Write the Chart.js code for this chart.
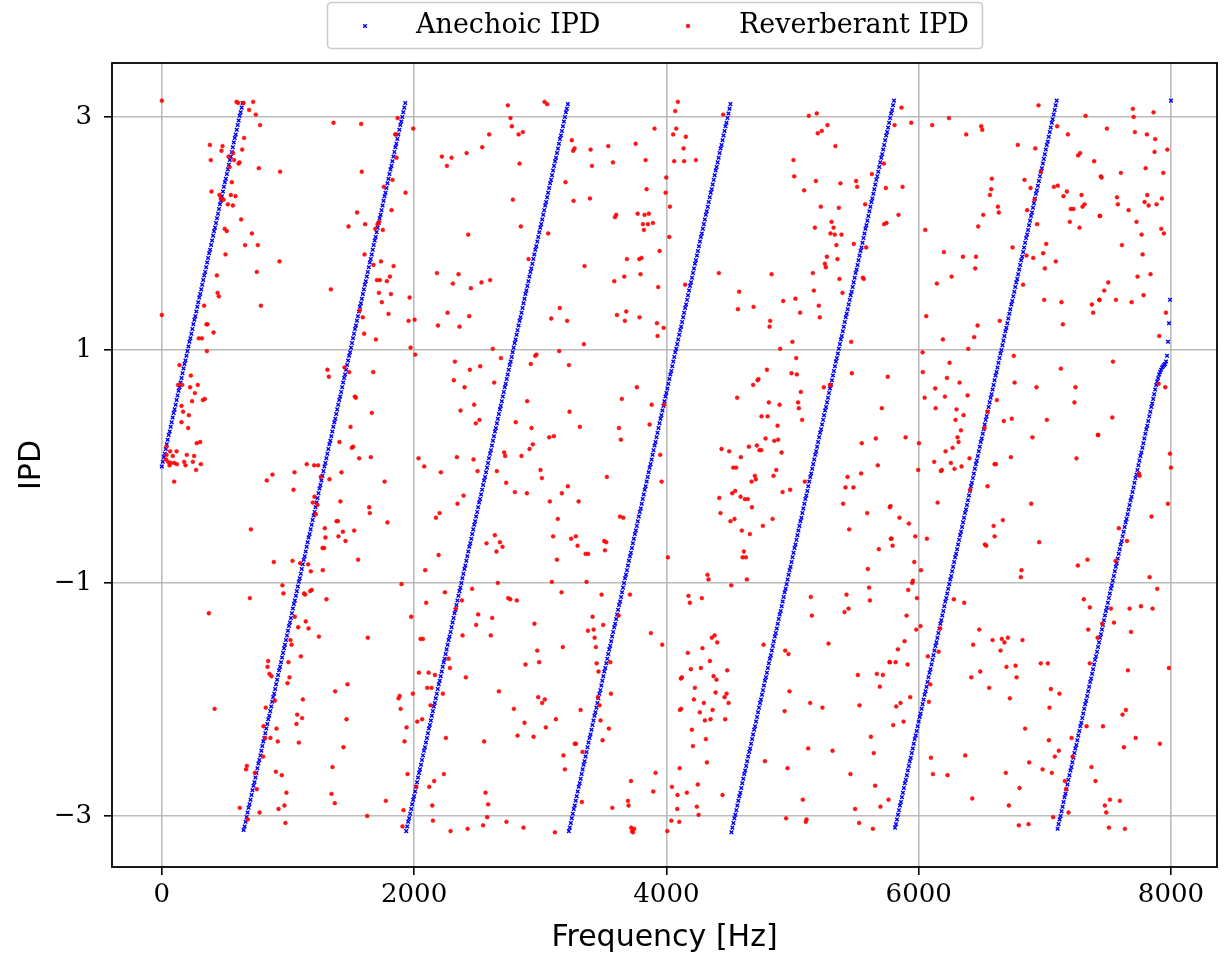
<!DOCTYPE html>
<html>
<head>
<meta charset="utf-8">
<title>IPD</title>
<script src="https://cdn.jsdelivr.net/npm/chart.js@4.4.0/dist/chart.umd.min.js"></script>
<style>
    html, body { margin: 0; padding: 0; background: #ffffff; }
    #wrap { width: 1225px; height: 957px; }
</style>
</head>
<body>
<div id="wrap"><canvas id="ipdChart" width="1225" height="957"></canvas></div>
<script>
// ==========================================
// DATOS
// ==========================================

// frequency bin step (Hz) for the anechoic series, bins 0..1024
const binHz = 7.8125;

const xTicks = [0, 2000, 4000, 6000, 8000];
const yTicks = [-3, -1, 1, 3];

const seriesLabels = ['Anechoic IPD', 'Reverberant IPD'];

// anechoic IPD, one value per bin
const anechoicIpd = [
    0.00,0.04,0.08,0.11,0.15,0.19,0.23,0.27,0.30,0.34,
    0.38,0.42,0.46,0.49,0.53,0.57,0.61,0.65,0.68,0.72,
    0.76,0.80,0.84,0.88,0.91,0.95,0.99,1.03,1.07,1.10,
    1.14,1.18,1.22,1.26,1.29,1.33,1.37,1.41,1.45,1.48,
    1.52,1.56,1.60,1.64,1.67,1.71,1.75,1.79,1.83,1.86,
    1.90,1.94,1.98,2.02,2.05,2.09,2.13,2.17,2.21,2.25,
    2.28,2.32,2.36,2.40,2.44,2.47,2.51,2.55,2.59,2.63,
    2.66,2.70,2.74,2.78,2.82,2.85,2.89,2.93,2.97,3.01,
    3.04,3.08,3.12,-3.12,-3.09,-3.05,-3.01,-2.97,-2.93,-2.90,
    -2.86,-2.82,-2.78,-2.74,-2.71,-2.67,-2.63,-2.59,-2.55,-2.52,
    -2.48,-2.44,-2.40,-2.36,-2.33,-2.29,-2.25,-2.21,-2.17,-2.14,
    -2.10,-2.06,-2.02,-1.98,-1.95,-1.91,-1.87,-1.83,-1.79,-1.75,
    -1.72,-1.68,-1.64,-1.60,-1.56,-1.53,-1.49,-1.45,-1.41,-1.37,
    -1.34,-1.30,-1.26,-1.22,-1.18,-1.15,-1.11,-1.07,-1.03,-0.99,
    -0.96,-0.92,-0.88,-0.84,-0.80,-0.77,-0.73,-0.69,-0.65,-0.61,
    -0.58,-0.54,-0.50,-0.46,-0.42,-0.39,-0.35,-0.31,-0.27,-0.23,
    -0.19,-0.16,-0.12,-0.08,-0.04,0.00,0.03,0.07,0.11,0.15,
    0.19,0.22,0.26,0.30,0.34,0.38,0.41,0.45,0.49,0.53,
    0.57,0.60,0.64,0.68,0.72,0.76,0.79,0.83,0.87,0.91,
    0.95,0.98,1.02,1.06,1.10,1.14,1.18,1.21,1.25,1.29,
    1.33,1.37,1.40,1.44,1.48,1.52,1.56,1.59,1.63,1.67,
    1.71,1.75,1.78,1.82,1.86,1.90,1.94,1.97,2.01,2.05,
    2.09,2.13,2.16,2.20,2.24,2.28,2.32,2.35,2.39,2.43,
    2.47,2.51,2.55,2.58,2.62,2.66,2.70,2.74,2.77,2.81,
    2.85,2.89,2.93,2.96,3.00,3.04,3.08,3.12,-3.13,-3.09,
    -3.05,-3.02,-2.98,-2.94,-2.90,-2.86,-2.83,-2.79,-2.75,-2.71,
    -2.67,-2.63,-2.60,-2.56,-2.52,-2.48,-2.44,-2.41,-2.37,-2.33,
    -2.29,-2.25,-2.22,-2.18,-2.14,-2.10,-2.06,-2.03,-1.99,-1.95,
    -1.91,-1.87,-1.84,-1.80,-1.76,-1.72,-1.68,-1.65,-1.61,-1.57,
    -1.53,-1.49,-1.46,-1.42,-1.38,-1.34,-1.30,-1.26,-1.23,-1.19,
    -1.15,-1.11,-1.07,-1.04,-1.00,-0.96,-0.92,-0.88,-0.85,-0.81,
    -0.77,-0.73,-0.69,-0.66,-0.62,-0.58,-0.54,-0.50,-0.47,-0.43,
    -0.39,-0.35,-0.31,-0.28,-0.24,-0.20,-0.16,-0.12,-0.09,-0.05,
    -0.01,0.03,0.07,0.11,0.14,0.18,0.22,0.26,0.30,0.33,
    0.37,0.41,0.45,0.49,0.52,0.56,0.60,0.64,0.68,0.71,
    0.75,0.79,0.83,0.87,0.90,0.94,0.98,1.02,1.06,1.09,
    1.13,1.17,1.21,1.25,1.28,1.32,1.36,1.40,1.44,1.48,
    1.51,1.55,1.59,1.63,1.67,1.70,1.74,1.78,1.82,1.86,
    1.89,1.93,1.97,2.01,2.05,2.08,2.12,2.16,2.20,2.24,
    2.27,2.31,2.35,2.39,2.43,2.46,2.50,2.54,2.58,2.62,
    2.65,2.69,2.73,2.77,2.81,2.84,2.88,2.92,2.96,3.00,
    3.04,3.07,3.11,-3.13,-3.10,-3.06,-3.02,-2.98,-2.94,-2.91,
    -2.87,-2.83,-2.79,-2.75,-2.72,-2.68,-2.64,-2.60,-2.56,-2.53,
    -2.49,-2.45,-2.41,-2.37,-2.33,-2.30,-2.26,-2.22,-2.18,-2.14,
    -2.11,-2.07,-2.03,-1.99,-1.95,-1.92,-1.88,-1.84,-1.80,-1.76,
    -1.73,-1.69,-1.65,-1.61,-1.57,-1.54,-1.50,-1.46,-1.42,-1.38,
    -1.35,-1.31,-1.27,-1.23,-1.19,-1.16,-1.12,-1.08,-1.04,-1.00,
    -0.96,-0.93,-0.89,-0.85,-0.81,-0.77,-0.74,-0.70,-0.66,-0.62,
    -0.58,-0.55,-0.51,-0.47,-0.43,-0.39,-0.36,-0.32,-0.28,-0.24,
    -0.20,-0.17,-0.13,-0.09,-0.05,-0.01,0.02,0.06,0.10,0.14,
    0.18,0.21,0.25,0.29,0.33,0.37,0.41,0.44,0.48,0.52,
    0.56,0.60,0.63,0.67,0.71,0.75,0.79,0.82,0.86,0.90,
    0.94,0.98,1.01,1.05,1.09,1.13,1.17,1.20,1.24,1.28,
    1.32,1.36,1.39,1.43,1.47,1.51,1.55,1.58,1.62,1.66,
    1.70,1.74,1.77,1.81,1.85,1.89,1.93,1.97,2.00,2.04,
    2.08,2.12,2.16,2.19,2.23,2.27,2.31,2.35,2.38,2.42,
    2.46,2.50,2.54,2.57,2.61,2.65,2.69,2.73,2.76,2.80,
    2.84,2.88,2.92,2.95,2.99,3.03,3.07,3.11,-3.14,-3.10,
    -3.06,-3.02,-2.99,-2.95,-2.91,-2.87,-2.83,-2.80,-2.76,-2.72,
    -2.68,-2.64,-2.61,-2.57,-2.53,-2.49,-2.45,-2.42,-2.38,-2.34,
    -2.30,-2.26,-2.23,-2.19,-2.15,-2.11,-2.07,-2.03,-2.00,-1.96,
    -1.92,-1.88,-1.84,-1.81,-1.77,-1.73,-1.69,-1.65,-1.62,-1.58,
    -1.54,-1.50,-1.46,-1.43,-1.39,-1.35,-1.31,-1.27,-1.24,-1.20,
    -1.16,-1.12,-1.08,-1.05,-1.01,-0.97,-0.93,-0.89,-0.86,-0.82,
    -0.78,-0.74,-0.70,-0.67,-0.63,-0.59,-0.55,-0.51,-0.47,-0.44,
    -0.40,-0.36,-0.32,-0.28,-0.25,-0.21,-0.17,-0.13,-0.09,-0.06,
    -0.02,0.02,0.06,0.10,0.13,0.17,0.21,0.25,0.29,0.32,
    0.36,0.40,0.44,0.48,0.51,0.55,0.59,0.63,0.67,0.70,
    0.74,0.78,0.82,0.86,0.90,0.93,0.97,1.01,1.05,1.09,
    1.12,1.16,1.20,1.24,1.28,1.31,1.35,1.39,1.43,1.47,
    1.50,1.54,1.58,1.62,1.66,1.69,1.73,1.77,1.81,1.85,
    1.88,1.92,1.96,2.00,2.04,2.07,2.11,2.15,2.19,2.23,
    2.27,2.30,2.34,2.38,2.42,2.46,2.49,2.53,2.57,2.61,
    2.65,2.68,2.72,2.76,2.80,2.84,2.87,2.91,2.95,2.99,
    3.03,3.06,3.10,3.14,-3.10,-3.07,-3.03,-2.99,-2.95,-2.91,
    -2.88,-2.84,-2.80,-2.76,-2.72,-2.69,-2.65,-2.61,-2.57,-2.53,
    -2.50,-2.46,-2.42,-2.38,-2.34,-2.31,-2.27,-2.23,-2.19,-2.15,
    -2.12,-2.08,-2.04,-2.00,-1.96,-1.93,-1.89,-1.85,-1.81,-1.77,
    -1.74,-1.70,-1.66,-1.62,-1.58,-1.54,-1.51,-1.47,-1.43,-1.39,
    -1.35,-1.32,-1.28,-1.24,-1.20,-1.16,-1.13,-1.09,-1.05,-1.01,
    -0.97,-0.94,-0.90,-0.86,-0.82,-0.78,-0.75,-0.71,-0.67,-0.63,
    -0.59,-0.56,-0.52,-0.48,-0.44,-0.40,-0.37,-0.33,-0.29,-0.25,
    -0.21,-0.17,-0.14,-0.10,-0.06,-0.02,0.02,0.05,0.09,0.13,
    0.17,0.21,0.24,0.28,0.32,0.36,0.40,0.43,0.47,0.51,
    0.55,0.59,0.62,0.66,0.70,0.74,0.78,0.81,0.85,0.89,
    0.93,0.97,1.00,1.04,1.08,1.12,1.16,1.19,1.23,1.27,
    1.31,1.35,1.39,1.42,1.46,1.50,1.54,1.58,1.61,1.65,
    1.69,1.73,1.77,1.80,1.84,1.88,1.92,1.96,1.99,2.03,
    2.07,2.11,2.15,2.18,2.22,2.26,2.30,2.34,2.37,2.41,
    2.45,2.49,2.53,2.56,2.60,2.64,2.68,2.72,2.76,2.79,
    2.83,2.87,2.91,2.95,2.98,3.02,3.06,3.10,3.14,-3.11,
    -3.07,-3.03,-3.00,-2.96,-2.92,-2.88,-2.84,-2.81,-2.77,-2.73,
    -2.69,-2.65,-2.61,-2.58,-2.54,-2.50,-2.46,-2.42,-2.39,-2.35,
    -2.31,-2.27,-2.23,-2.20,-2.16,-2.12,-2.08,-2.04,-2.01,-1.97,
    -1.93,-1.89,-1.85,-1.82,-1.78,-1.74,-1.70,-1.66,-1.63,-1.59,
    -1.55,-1.51,-1.47,-1.44,-1.40,-1.36,-1.32,-1.28,-1.24,-1.21,
    -1.17,-1.13,-1.09,-1.05,-1.02,-0.98,-0.94,-0.90,-0.86,-0.83,
    -0.79,-0.75,-0.71,-0.67,-0.64,-0.60,-0.56,-0.52,-0.48,-0.45,
    -0.41,-0.37,-0.33,-0.29,-0.26,-0.22,-0.18,-0.14,-0.10,-0.07,
    -0.03,0.01,0.05,0.09,0.12,0.16,0.20,0.24,0.28,0.32,
    0.35,0.39,0.43,0.47,0.51,0.54,0.58,0.62,0.66,0.70,
    0.73,0.76,0.79,0.81,0.83,0.85,0.86,0.87,0.88,0.90,
    0.95,1.07,1.23,1.43,3.14
];

// reverberant IPD, [frequency Hz, ipd]
const reverbPoints = [
    [0,3.14],[0,1.30],[592,3.13],[605,3.12],[648,3.12],[724,3.13],[692,3.06],[745,3.02],[779,2.93],[381,2.76],
    [481,2.75],[473,2.71],[388,2.63],[529,2.66],[565,2.69],[573,2.63],[608,2.60],[616,2.61],[537,2.57],[652,2.82],
    [637,2.72],[769,2.56],[555,2.44],[394,2.36],[457,2.33],[468,2.30],[489,2.29],[547,2.33],[584,2.32],[523,2.25],
    [563,2.24],[629,2.12],[499,2.04],[515,2.02],[714,2.00],[660,1.90],[761,1.90],[505,1.82],[753,1.67],[436,1.64],
    [442,1.49],[452,1.46],[335,1.38],[785,1.38],[410,1.15],[293,1.10],[317,1.10],[354,1.22],[362,1.22],[357,0.99],
    [140,0.87],[230,0.78],[129,0.70],[161,0.70],[285,0.70],[224,0.68],[262,0.63],[240,0.56],[325,0.57],[341,0.58],
    [156,0.52],[169,0.47],[214,0.44],[156,0.38],[209,0.33],[277,0.20],[304,0.21],[37,0.17],[66,0.13],[117,0.13],
    [37,0.10],[87,0.09],[198,0.10],[256,0.09],[32,0.06],[50,0.04],[71,0.03],[98,0.03],[119,0.02],[177,0.04],
    [188,0.01],[246,0.04],[309,0.02],[61,0.01],[272,-0.03],[98,-0.13],[706,-0.54],[698,-1.13],[373,-1.26],[418,-2.08],
    [674,-2.57],[668,-2.60],[737,-2.63],[753,-2.77],[618,-2.93],[682,-3.03],[775,-2.97],
    [1361,2.95],[1580,2.94],[938,2.53],[1585,2.53],[1548,2.18],[1480,2.06],[1612,2.08],[933,1.76],[1607,1.82],[1340,1.52],
    [1570,1.34],[1593,1.28],[1604,1.14],[1313,0.83],[1324,0.77],[1448,0.85],[1485,0.81],[1530,0.60],[1538,0.59],[1496,0.34],
    [1408,0.21],[1506,0.16],[1517,0.17],[1564,0.07],[1149,0.02],[1208,0.01],[1239,0.01],[1052,-0.05],[1424,-0.05],[832,-0.12],
    [877,-0.07],[1260,-0.09],[1329,-0.11],[1044,-0.20],[1210,-0.26],[1197,-0.31],[1234,-0.33],[1416,-0.30],[1221,-0.41],[1385,-0.47],
    [1395,-0.47],[1292,-0.53],[1525,-0.55],[1435,-0.56],[1400,-0.60],[1456,-0.64],[1297,-0.61],[1274,-0.70],[1287,-0.70],[888,-0.82],
    [1036,-0.81],[1556,-0.80],[1097,-0.83],[1160,-0.84],[1181,-0.90],[1276,-0.89],[956,-1.02],[964,-1.09],[1128,-1.09],[1136,-1.10],
    [1176,-1.07],[1189,-1.06],[1305,-1.14],[1054,-1.29],[1141,-1.33],[1081,-1.38],[1163,-1.39],[1245,-1.46],[1020,-1.49],[1028,-1.53],
    [1102,-1.63],[843,-1.67],[838,-1.72],[1004,-1.68],[853,-1.78],[869,-1.80],[1012,-1.81],[996,-1.86],[1472,-1.87],[1374,-1.93],
    [896,-2.01],[1118,-2.00],[824,-2.07],[1073,-2.13],[1112,-2.16],[1464,-2.17],[1067,-2.21],[806,-2.23],[909,-2.25],[819,-2.33],
    [861,-2.33],[919,-2.36],[1086,-2.37],[1440,-2.41],[803,-2.49],[1353,-2.58],[904,-2.62],[951,-2.65],[988,-2.80],[1345,-2.81],
    [1371,-2.89],[972,-2.91],[925,-2.94],[980,-3.06],
    [1869,2.99],[1850,2.85],[1858,2.85],[1993,2.90],[1861,2.65],[2220,2.66],[2297,2.65],[2416,2.69],[2260,2.58],[1829,2.46],
    [1760,2.40],[1932,2.35],[1821,2.20],[1710,2.08],[1723,2.10],[1692,2.04],[1752,2.03],[2429,1.99],[1737,1.76],[1837,1.72],
    [1678,1.73],[2181,1.66],[2352,1.65],[1705,1.60],[1729,1.60],[1784,1.59],[1808,1.63],[2307,1.57],[2450,1.53],[1721,1.49],
    [1816,1.48],[1964,1.45],[1744,1.41],[1797,1.31],[2265,1.32],[2437,1.29],[1956,1.25],[2004,1.26],[2189,1.21],[2360,1.20],
    [1697,1.09],[1972,1.02],[2009,0.96],[2323,0.90],[1676,0.81],[2315,0.74],[2442,0.83],[2400,0.68],[1665,0.46],[2368,0.48],
    [2339,0.08],[1657,0.08],[2035,0.07],[2080,0.00],[2212,-0.05],[1766,-0.13],[2392,-0.25],[2344,-0.32],[1644,-0.35],[1649,-0.40],
    [1789,-0.48],[2173,-0.44],[2202,-0.40],[2194,-0.76],[2088,-0.89],[1900,-1.01],[2244,-1.08],[2379,-1.15],[2096,-1.17],[1977,-1.29],
    [1633,-1.47],[2051,-1.48],[2070,-1.48],[2331,-1.22],[2384,-1.45],[2273,-1.65],[2284,-1.73],[2038,-1.77],[2115,-1.77],[2165,-1.79],
    [2410,-1.81],[2104,-1.90],[2138,-1.90],[1990,-1.95],[1885,-1.97],[1877,-1.99],[2228,-1.95],[1893,-2.08],[2130,-2.05],[2064,-2.17],
    [2025,-2.19],[1940,-2.24],[1924,-2.36],[2252,-2.33],[1948,-2.64],[2236,-2.64],[2159,-2.70],[2120,-2.75],[2017,-2.75],[1776,-2.87],
    [2144,-2.91],[1916,-2.95],[1628,-3.00],[1908,-3.09],[2149,-3.04],[2289,-3.13],[2424,-3.11],
    [2743,3.10],[3034,3.13],[3055,3.11],[2764,2.99],[2775,2.92],[2595,2.85],[2828,2.85],[2862,2.87],[2540,2.74],[3250,2.80],
    [3261,2.71],[3272,2.73],[2836,2.60],[3200,2.44],[2783,2.29],[3264,2.28],[2846,2.06],[3063,2.00],[2907,1.78],[2534,1.58],
    [2603,1.60],[3155,1.36],[3087,1.27],[3213,1.25],[2624,1.01],[2688,0.93],[2960,0.95],[2970,0.96],[3150,0.99],[2524,0.86],
    [2925,0.88],[3227,0.87],[2635,0.72],[2896,0.56],[2476,0.53],[3232,0.47],[2518,0.40],[2489,0.37],[2806,0.38],[2931,0.33],
    [3071,0.25],[3108,0.26],[2915,0.15],[2941,0.19],[2714,0.12],[2722,0.09],[2851,0.09],[2471,0.06],[3002,-0.03],[2656,-0.04],
    [2503,-0.04],[3013,-0.10],[2730,-0.14],[3219,-0.17],[2799,-0.22],[2894,-0.23],[3171,-0.23],[3076,-0.30],[3139,-0.45],[3102,-0.60],
    [3245,-0.62],[3282,-0.60],[2640,-0.59],[2574,-0.66],[2680,-0.65],[2701,-0.69],[2653,-0.73],[3132,-0.80],[2664,-1.00],[3092,-0.99],
    [2460,-1.05],[3169,-1.08],[2746,-1.13],[2762,-1.14],[2814,-1.15],[2508,-1.27],[2619,-1.30],[2492,-1.36],[2954,-1.35],[2608,-1.45],
    [3179,-1.55],[2976,-1.58],[2883,-1.70],[2991,-1.68],[2672,-1.93],[2984,-1.98],[3036,-2.00],[3015,-2.03],[2791,-2.08],[3124,-2.17],
    [2875,-2.20],[3044,-2.24],[2820,-2.31],[2947,-2.32],[2555,-2.36],[3274,-2.38],[3184,-2.48],[3195,-2.60],[2566,-2.80],[2587,-2.90],
    [2579,-3.01],[2732,-3.05],[2547,-3.08],[2867,-3.10],[3116,-3.14],
    [4091,3.13],[4070,3.05],[3906,2.90],[4054,2.85],[4078,2.90],[3399,2.72],[3539,2.75],[3756,2.77],[3410,2.58],[3576,2.61],
    [3835,2.63],[4062,2.62],[3999,2.48],[3843,2.38],[3994,2.35],[3394,2.30],[4028,2.23],[3602,2.16],[3592,2.14],[3772,2.17],
    [3827,2.16],[3861,2.17],[3814,2.08],[3854,2.08],[3893,2.09],[3822,2.03],[4023,1.97],[3946,1.85],[3687,1.78],[3785,1.78],
    [3803,1.79],[3351,1.72],[3666,1.63],[3795,1.65],[3587,1.59],[3935,1.54],[3608,1.30],[3682,1.33],[3671,1.25],[3787,1.28],
    [3925,1.23],[3978,1.19],[3930,1.12],[3346,1.05],[3766,0.68],[3647,0.58],[3883,0.53],[3983,0.53],[3867,0.36],[3314,0.34],
    [3624,0.33],[3639,0.23],[3951,0.10],[3528,-0.09],[3962,-0.13],[3304,-0.30],[3632,-0.43],[3658,-0.44],[3296,-0.68],[3507,-0.64],
    [3523,-0.65],[3513,-0.72],[3359,-0.75],[3380,-0.75],[4012,-0.78],[3367,-0.99],[3486,-1.10],[3711,-1.10],[3415,-1.29],[3378,-1.41],
    [3423,-1.40],[3499,-1.36],[3621,-1.28],[3431,-1.47],[3877,-1.43],[3967,-1.53],[3441,-1.55],[3447,-1.69],[3555,-1.68],[3462,-1.76],
    [4115,-1.82],[3560,-1.95],[3457,-1.98],[3470,-2.05],[3320,-2.09],[4107,-2.09],[3478,-2.18],[3544,-2.25],[3494,-2.35],[3283,-2.38],
    [3335,-2.45],[4105,-2.59],[3719,-2.70],[3914,-2.63],[3896,-2.79],[4044,-2.75],[3330,-2.88],[3695,-2.87],[3700,-2.91],[3571,-2.93],
    [4086,-2.94],[3721,-3.10],[3735,-3.14],[3745,-3.11],[3727,-3.13],[4039,-3.04],[4007,-3.13],[4102,-3.05],
    [4450,3.02],[4154,2.83],[4136,2.73],[4141,2.62],[4234,2.63],[4416,1.66],[4834,1.65],[4149,1.56],[4577,1.50],[4567,1.35],
    [4691,1.37],[4926,1.42],[4823,1.25],[4818,1.20],[4902,1.01],[4797,0.83],[4730,0.75],[4723,0.74],[4688,0.70],[4561,0.59],
    [4812,0.55],[4897,0.53],[4754,0.43],[4802,0.43],[4881,0.35],[4786,0.24],[4855,0.22],[4886,0.23],[4654,0.17],[4717,0.18],
    [4437,0.15],[4498,0.13],[4738,0.14],[4752,0.14],[4913,0.12],[4590,0.08],[4530,-0.01],[4553,-0.01],[4871,-0.03],[4701,-0.08],
    [4709,-0.11],[4849,-0.08],[4675,-0.13],[4921,-0.22],[4522,-0.23],[4545,-0.21],[4419,-0.27],[4588,-0.26],[4622,-0.28],[4646,-0.28],
    [4678,-0.35],[4429,-0.40],[4508,-0.47],[4540,-0.45],[4842,-0.45],[4765,-0.51],[4598,-0.55],[4662,-0.58],[4614,-0.73],[4604,-0.78],
    [4630,-0.78],[4326,-0.93],[4334,-0.97],[4638,-0.97],[4514,-1.02],[4175,-1.11],[4186,-1.17],[4281,-1.13],[4360,-1.47],[4382,-1.45],
    [4403,-1.51],[4286,-1.56],[4170,-1.60],[4770,-1.53],[4345,-1.67],[4942,-1.58],[4194,-1.74],[4273,-1.73],[4482,-1.75],[4123,-1.81],
    [4374,-1.80],[4397,-1.83],[4226,-1.90],[4390,-1.94],[4477,-1.95],[4461,-1.98],[4218,-2.00],[4297,-2.03],[4493,-2.03],[4117,-2.08],
    [4366,-2.09],[4265,-2.11],[4937,-2.10],[4305,-2.18],[4350,-2.17],[4466,-2.17],[4202,-2.26],[4313,-2.34],[4210,-2.40],[4781,-2.53],
    [4321,-2.54],[4249,-2.73],[4162,-2.80],[4445,-2.82],[4088,-2.82],[4241,-2.92],[4255,-2.99],
    [5129,3.01],[5192,3.03],[5277,2.93],[5200,2.86],[5232,2.88],[5340,2.75],[5007,2.63],[5013,2.49],[5185,2.45],[5380,2.43],
    [5504,2.45],[5512,2.40],[5092,2.37],[5629,2.51],[5740,2.39],[5724,2.60],[5224,2.23],[5367,2.22],[5576,2.25],[5177,2.05],
    [5309,2.10],[5325,2.05],[5301,2.00],[5335,1.99],[5388,1.99],[5726,2.08],[5745,2.09],[5486,1.91],[5584,1.88],[5348,1.90],
    [5272,1.80],[5256,1.74],[5264,1.71],[5356,1.78],[5161,1.66],[5372,1.61],[5557,1.62],[5565,1.61],[5023,1.44],[5169,1.51],
    [5396,1.49],[5208,1.38],[5060,1.32],[5216,1.28],[4999,1.07],[5465,1.07],[5029,0.93],[4992,0.80],[5034,0.79],[5470,0.80],
    [5755,0.77],[5066,0.64],[5248,0.68],[5296,0.70],[5303,0.70],[5044,0.55],[5050,0.50],[5076,0.40],[5708,0.50],[5660,0.24],
    [5549,0.20],[5676,0.01],[5436,-0.09],[5544,-0.06],[5097,-0.13],[5420,-0.18],[5483,-0.18],[4981,-0.20],[5401,-0.32],[5771,-0.35],
    [5592,-0.40],[5449,-0.54],[5779,-0.62],[5684,-0.71],[5597,-0.88],[5607,-1.04],[5145,-1.12],[5428,-1.10],[5613,-1.15],[5412,-1.25],
    [5444,-1.22],[5153,-1.28],[5285,-1.52],[4968,-1.61],[5769,-1.68],[5518,-1.79],[5668,-1.78],[5716,-1.79],[5692,-1.89],[4976,-1.93],
    [5140,-2.03],[5237,-2.07],[5531,-2.05],[5621,-2.32],[5124,-2.42],[5317,-2.44],[5644,-2.46],[4960,-2.59],[5459,-2.64],[5655,-2.74],
    [5081,-2.86],[5761,-2.86],[5496,-2.94],[5697,-2.92],[4949,-3.02],[5111,-3.03],[5105,-3.05],[5528,-3.06],[5637,-3.11],
    [5864,3.08],[5809,2.93],[5941,2.95],[6107,2.93],[6240,2.99],[6377,2.85],[6496,2.92],[6504,2.89],[6580,2.47],[6575,2.38],
    [6565,2.33],[5872,2.40],[5840,2.16],[6512,2.16],[6472,2.06],[6052,2.03],[6200,1.84],[6351,1.80],[6454,1.80],[6448,1.70],
    [6261,1.63],[6144,1.57],[6060,1.29],[6467,1.21],[6440,1.11],[6192,1.09],[6393,1.01],[6031,0.98],[6245,0.89],[6033,0.81],
    [6224,0.76],[6131,0.67],[6324,0.72],[6047,0.59],[6208,0.60],[6388,0.61],[6546,0.47],[6134,0.50],[6300,0.49],[6356,0.44],
    [6292,0.40],[6522,0.33],[6335,0.31],[5896,0.25],[6308,0.25],[6316,0.21],[6002,0.20],[6269,0.16],[6213,0.13],[6403,0.07],
    [6123,0.04],[6255,0.03],[6340,0.00],[6284,-0.02],[6176,-0.04],[6184,-0.03],[5996,-0.03],[6602,0.02],[6546,-0.17],[6409,-0.20],
    [6150,-0.31],[5777,-0.34],[5848,-0.44],[5922,-0.49],[6594,-0.51],[6602,-0.60],[5785,-0.62],[5793,-0.68],[5973,-0.60],[6065,-0.62],
    [6525,-0.67],[6536,-0.68],[5965,-0.82],[6018,-0.89],[5954,-0.98],[5949,-1.00],[5917,-1.06],[5986,-1.13],[6279,-1.14],[6361,-1.17],
    [5904,-1.28],[5981,-1.40],[6015,-1.37],[6171,-1.39],[6480,-1.40],[6586,-1.49],[5888,-1.50],[6432,-1.53],[5835,-1.57],[6158,-1.59],
    [5772,-1.68],[5817,-1.68],[5912,-1.70],[6073,-1.63],[6488,-1.76],[6417,-1.81],[6092,-1.87],[6559,-1.90],[5933,-1.98],[5856,-2.03],
    [5822,-2.06],[6081,-2.02],[5880,-2.19],[5798,-2.22],[6097,-2.50],[6369,-2.48],[6113,-2.64],[6229,-2.65],[6425,-2.85],
    [6950,3.10],[7323,3.01],[7098,2.92],[7183,2.85],[6786,2.76],[6924,2.73],[7264,2.67],[7280,2.69],[7391,2.62],[6968,2.53],
    [6839,2.46],[6887,2.39],[7072,2.40],[7103,2.41],[7175,2.36],[7148,2.32],[7291,2.33],[7315,2.25],[7299,2.23],[7444,2.49],
    [6628,2.23],[6635,2.18],[6860,2.20],[6918,2.29],[7206,2.21],[7227,2.21],[7434,2.15],[6939,2.08],[7198,2.10],[7275,2.05],
    [6744,1.88],[7011,1.91],[6987,1.83],[6855,1.81],[6908,1.79],[7087,1.76],[7000,1.70],[6828,1.56],[6995,1.43],[7132,1.41],
    [7373,1.39],[7383,1.32],[7431,1.43],[7143,1.22],[6643,1.25],[6754,0.95],[7127,0.84],[6620,0.57],[6760,0.72],[6934,0.68],
    [7243,0.68],[7235,0.55],[6675,0.39],[6738,0.41],[7016,0.40],[6902,0.25],[7420,0.27],[6612,0.02],[6731,0.08],[7251,0.07],
    [6892,-0.32],[6667,-0.46],[6955,-0.65],[7262,-0.85],[7338,-0.80],[6815,-0.89],[6810,-0.95],[7309,-1.14],[7357,-1.21],[7344,-1.40],
    [7418,-1.47],[6659,-1.48],[6680,-1.51],[6707,-1.47],[6823,-1.49],[6649,-1.58],[6696,-1.72],[6768,-1.71],[6776,-1.81],[6968,-1.69],
    [7024,-1.69],[7357,-1.69],[7048,-1.91],[7116,-1.95],[6723,-1.99],[7037,-2.07],[7331,-2.23],[6844,-2.25],[7212,-2.33],[7032,-2.35],
    [7111,-2.44],[7079,-2.49],[7220,-2.49],[6876,-2.54],[7370,-2.58],[6982,-2.60],[7056,-2.63],[6691,-2.63],[7402,-2.70],[7159,-2.70],
    [7169,-2.77],[6799,-2.76],[6715,-2.91],[7188,-2.97],[7066,-3.01],[6794,-3.08],[6871,-3.07],
    [7698,3.07],[7704,3.00],[7862,3.04],[7492,2.90],[7714,2.87],[7809,2.85],[7875,2.81],[7870,2.70],[7971,2.72],[7799,2.56],
    [7603,2.52],[7939,2.52],[7450,2.48],[7812,2.33],[7572,2.31],[7579,2.25],[7791,2.27],[7823,2.24],[7886,2.25],[7928,2.30],
    [7664,2.20],[7439,2.15],[7727,2.10],[7923,2.04],[7944,2.00],[7767,1.99],[7611,1.90],[7775,1.82],[7735,1.63],[7838,1.65],
    [7503,1.58],[7471,1.51],[7783,1.47],[7434,1.43],[7564,1.43],[7688,1.41],[7960,1.32],[7907,1.12],[7540,0.90],[7955,0.68],
    [7902,0.71],[7535,0.42],[7424,0.27],[7992,0.11],[8000,-0.01],[7746,-0.06],[7751,-0.08],[7976,-0.32],[7846,-0.43],[7587,-0.53],
    [7651,-0.64],[7561,-0.81],[7831,-0.95],[7891,-1.05],[7524,-1.22],[7672,-1.22],[7762,-1.20],[7854,-1.22],[7455,-1.35],[7548,-1.34],
    [7683,-1.42],[7659,-1.75],[7984,-1.73],[7643,-2.09],[7616,-2.13],[7461,-2.23],[7720,-2.33],[7627,-2.41],[7912,-2.38],[7516,-2.86],
    [7595,-2.87],[7476,-2.91],[7487,-2.97],[7508,-3.10],[7635,-3.11]
];

(function() {
    'use strict';

    const BLUE = '#0000ff';
    const RED = 'rgba(255, 0, 0, 0.92)';
    const SERIF = "'DejaVu Serif', 'Liberation Serif', serif";
    const SANS = "'DejaVu Sans', 'Liberation Sans', sans-serif";

    // ==========================================
    // PLUGINS
    // ==========================================

    // marco completo de los ejes (matplotlib spines)
    const framePlugin = {
        id: 'frame',
        afterDatasetsDraw(chart) {
            const { ctx, chartArea: a } = chart;
            ctx.save();
            ctx.strokeStyle = '#000';
            ctx.lineWidth = 1.8;
            ctx.strokeRect(a.left, a.top, a.right - a.left, a.bottom - a.top);
            ctx.restore();
        }
    };

    // leyenda con caja, arriba y fuera del área
    const legendBoxPlugin = {
        id: 'legendBox',
        afterDraw(chart) {
            const ctx = chart.ctx;
            const items = [
                { ds: chart.data.datasets[0], mx: 365, tx: 416 },
                { ds: chart.data.datasets[1], mx: 688, tx: 739 }
            ];
            ctx.save();
            ctx.beginPath();
            ctx.roundRect(327.5, 2.5, 655, 46, 4);
            ctx.fillStyle = 'rgba(255,255,255,0.8)';
            ctx.fill();
            ctx.strokeStyle = '#cccccc';
            ctx.lineWidth = 1.6;
            ctx.stroke();

            items.forEach(it => {
                ctx.fillStyle = it.ds.backgroundColor;
                ctx.strokeStyle = it.ds.borderColor;
                ctx.lineWidth = it.ds.borderWidth;
                Chart.helpers.drawPoint(ctx, {
                    pointStyle: it.ds.pointStyle,
                    radius: it.ds.pointRadius,
                    rotation: 0,
                    borderWidth: it.ds.borderWidth
                }, it.mx, 26);
                ctx.fillStyle = '#000';
                ctx.font = '27px ' + SERIF;
                ctx.textBaseline = 'middle';
                ctx.textAlign = 'left';
                ctx.fillText(it.ds.label, it.tx, 26);
            });
            ctx.restore();
        }
    };

    // ==========================================
    // GRÁFICO
    // ==========================================
    function initChart() {
        const anechoicData = anechoicIpd.map((v, i) => ({ x: i * binHz, y: v }));
        const reverbData = reverbPoints.map(p => ({ x: p[0], y: p[1] }));

        const tickFont = { family: SERIF, size: 26 };
        const titleFont = { family: SANS, size: 30 };

        new Chart(document.getElementById('ipdChart'), {
            type: 'scatter',
            data: {
                datasets: [
                    {
                        label: seriesLabels[0],
                        data: anechoicData,
                        pointStyle: 'crossRot',
                        pointRadius: 2.5,
                        borderWidth: 1.4,
                        borderColor: BLUE,
                        backgroundColor: BLUE,
                        order: 2
                    },
                    {
                        label: seriesLabels[1],
                        data: reverbData,
                        pointStyle: 'circle',
                        pointRadius: 1.9,
                        borderWidth: 0.6,
                        borderColor: RED,
                        backgroundColor: RED,
                        order: 1
                    }
                ]
            },
            options: {
                responsive: false,
                animation: false,
                devicePixelRatio: 1,
                events: [],
                layout: { padding: { top: 63, right: 8, left: 0, bottom: 0 } },
                plugins: {
                    legend: { display: false },
                    tooltip: { enabled: false }
                },
                scales: {
                    x: {
                        type: 'linear',
                        min: -395,
                        max: 8365,
                        afterFit: s => { s.height = 90; },
                        afterBuildTicks: s => { s.ticks = xTicks.map(v => ({ value: v })); },
                        ticks: {
                            font: tickFont,
                            color: '#000',
                            padding: 5,
                            maxRotation: 0,
                            autoSkip: false,
                            callback: v => String(v)
                        },
                        grid: {
                            color: 'rgba(176,176,176,0.85)',
                            lineWidth: 1.6,
                            tickColor: '#000',
                            tickWidth: 1.6,
                            tickLength: 8
                        },
                        border: { display: false },
                        title: {
                            display: true,
                            text: 'Frequency [Hz]',
                            font: titleFont,
                            color: '#000',
                            padding: { top: 0, bottom: 1 }
                        }
                    },
                    y: {
                        type: 'linear',
                        min: -3.438,
                        max: 3.463,
                        afterFit: s => { s.width = 112; },
                        afterBuildTicks: s => { s.ticks = yTicks.map(v => ({ value: v })); },
                        ticks: {
                            font: tickFont,
                            color: '#000',
                            padding: 12,
                            autoSkip: false,
                            callback: v => (v < 0 ? '\u2212' + Math.abs(v) : String(v))
                        },
                        grid: {
                            color: 'rgba(176,176,176,0.85)',
                            lineWidth: 1.6,
                            tickColor: '#000',
                            tickWidth: 1.6,
                            tickLength: 8
                        },
                        border: { display: false },
                        title: {
                            display: true,
                            text: 'IPD',
                            font: titleFont,
                            color: '#000',
                            padding: { top: 14, bottom: 0 }
                        }
                    }
                }
            },
            plugins: [framePlugin, legendBoxPlugin]
        });
    }

    document.addEventListener('DOMContentLoaded', initChart);
})();
</script>
</body>
</html>
